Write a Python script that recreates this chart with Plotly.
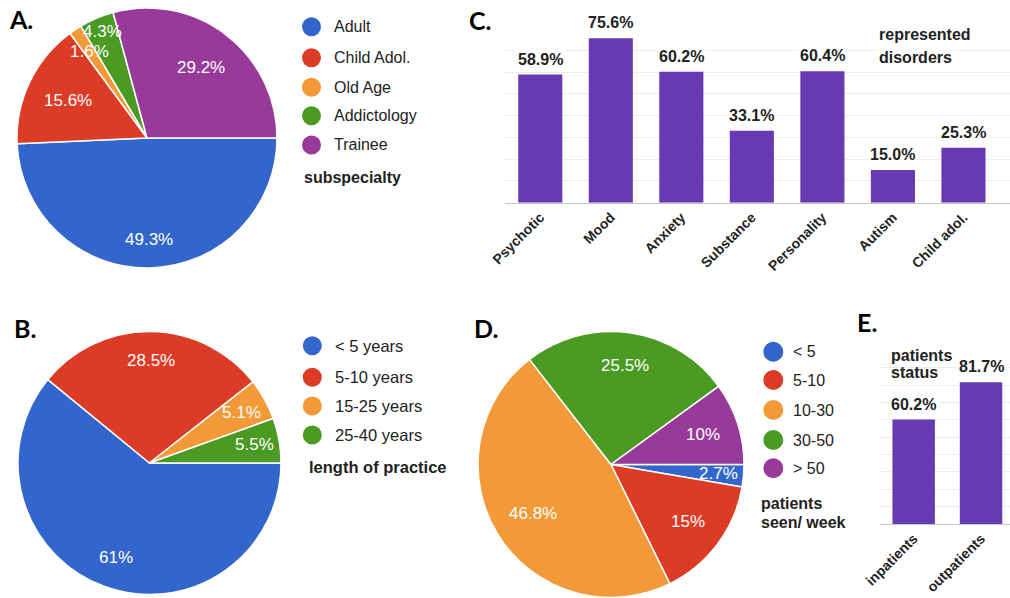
import math
import plotly.graph_objects as go

W, H = 1010, 598

# ---- data -------------------------------------------------------------
spec_labels = ["Adult", "Child Adol.", "Old Age", "Addictology", "Trainee"]
spec_values = [49.3, 15.6, 1.6, 4.3, 29.2]

practice_labels = ["< 5 years", "5-10 years", "15-25 years", "25-40 years"]
practice_values = [61, 28.5, 5.1, 5.5]

disorder_labels = ["Psychotic", "Mood", "Anxiety", "Substance",
                   "Personality", "Autism", "Child adol."]
disorder_values = [58.9, 75.6, 60.2, 33.1, 60.4, 15.0, 25.3]

weekly_labels = ["< 5", "5-10", "10-30", "30-50", "> 50"]
weekly_values = [2.7, 15, 46.8, 25.5, 10]

status_labels = ["inpatients", "outpatients"]
status_values = [60.2, 81.7]

# ---- styling ----------------------------------------------------------
BLUE, RED, ORANGE, GREEN, PURPLE = "#3366CC", "#DC3B26", "#F29A38", "#4A9A24", "#983A9A"
BAR = "#6739B3"
TXT = "#222222"
FONT = "Liberation Sans, Arial, sans-serif"
LETTER_FONT = "Lato, Liberation Sans, sans-serif"

spec_colors = [BLUE, RED, ORANGE, GREEN, PURPLE]
practice_colors = [BLUE, RED, ORANGE, GREEN]
weekly_colors = [BLUE, RED, ORANGE, GREEN, PURPLE]

# radial position (fraction of radius) of each slice's percentage label
spec_label_r = [0.78, 0.67, 0.80, 0.89, 0.68]
practice_label_r = [0.76, 0.78, 0.80, 0.81]
weekly_label_r = [0.81, 0.72, 0.69, 0.75, 0.73]


def px(x):
    return x / W


def py(y):
    return 1 - y / H


fig = go.Figure()
annotations = []
shapes = []


def add_pie(labels, values, colors, cx, cy, r, label_r):
    fig.add_trace(go.Pie(
        labels=labels, values=values, sort=False, direction="clockwise",
        rotation=90, marker=dict(colors=colors, line=dict(color="white", width=1.5)),
        textinfo="none", hoverinfo="label+value", showlegend=False,
        domain=dict(x=[px(cx - r), px(cx + r)], y=[py(cy + r), py(cy - r)]),
    ))
    total = sum(values)
    acc = 0.0
    for v, rf in zip(values, label_r):
        mid = (acc + v / 2) / total
        acc += v
        th = 2 * math.pi * mid
        lx = cx + rf * r * math.cos(th)
        ly = cy + rf * r * math.sin(th)
        annotations.append(dict(
            x=px(lx), y=py(ly), xref="paper", yref="paper", showarrow=False,
            text=f"{v:g}%", font=dict(family=FONT, size=17, color="white"),
            xanchor="center", yanchor="middle"))


def add_legend(labels, colors, cx, ys, tx, rad=9.5, size=16):
    for lab, col, y in zip(labels, colors, ys):
        shapes.append(dict(type="circle", xref="paper", yref="paper",
                           x0=px(cx - rad), x1=px(cx + rad),
                           y0=py(y + rad), y1=py(y - rad),
                           fillcolor=col, line=dict(width=0)))
        annotations.append(dict(x=px(tx), y=py(y), xref="paper", yref="paper",
                                showarrow=False, text=lab, xanchor="left",
                                yanchor="middle",
                                font=dict(family=FONT, size=size, color=TXT)))


def add_text(text, x, y, size=16, bold=True, anchor="left", family=FONT, bg=None):
    d = dict(x=px(x), y=py(y), xref="paper", yref="paper", showarrow=False,
             text=text, xanchor=anchor, yanchor="middle",
             font=dict(family=family, size=size, color=TXT if family == FONT else "black",
                       weight="bold" if bold else "normal"))
    if bg:
        d["bgcolor"] = bg
    annotations.append(d)


# ---- A: subspecialty pie ----------------------------------------------
add_pie(spec_labels, spec_values, spec_colors, 147, 138, 130, spec_label_r)
add_legend(spec_labels, spec_colors, 311.5, [26.7, 57.7, 87.3, 115.7, 145], 332)
add_text("subspecialty", 302, 177)

# ---- B: length of practice pie ----------------------------------------
add_pie(practice_labels, practice_values, practice_colors, 149.5, 463, 131.5, practice_label_r)
add_legend(practice_labels, practice_colors, 312.3, [345.7, 377.3, 406, 435], 333, size=16.5)
add_text("length of practice", 306.5, 466.7, size=16.5)

# ---- D: patients per week pie -----------------------------------------
add_pie(weekly_labels, weekly_values, weekly_colors, 611, 464.5, 133, weekly_label_r)
add_legend(weekly_labels, weekly_colors, 773.3, [351.7, 380, 410, 440, 468.3], 791, rad=10)
add_text("patients", 759, 503.3)
add_text("seen/ week", 759, 522)

# ---- C: represented disorders bars ------------------------------------
fig.add_trace(go.Bar(
    x=disorder_labels, y=disorder_values, marker=dict(color=BAR, line=dict(width=0)),
    width=0.625, xaxis="x", yaxis="y", showlegend=False,
))
for lab, v in zip(disorder_labels, disorder_values):
    annotations.append(dict(x=lab, y=v, xref="x", yref="y", showarrow=False,
                            text=f"{v:.1f}%", yanchor="bottom", yshift=5,
                            bgcolor="white", borderpad=1,
                            font=dict(family=FONT, size=16, color=TXT, weight="bold")))
add_text("represented", 877, 35, bg="white")
add_text("disorders", 877, 57, bg="white")

# ---- E: patient status bars -------------------------------------------
fig.add_trace(go.Bar(
    x=status_labels, y=status_values, marker=dict(color=BAR, line=dict(width=0)),
    width=0.63, xaxis="x2", yaxis="y2", showlegend=False,
))
for lab, v in zip(status_labels, status_values):
    annotations.append(dict(x=lab, y=v, xref="x2", yref="y2", showarrow=False,
                            text=f"{v:.1f}%", yanchor="bottom", yshift=5,
                            bgcolor="white", borderpad=1,
                            font=dict(family=FONT, size=16, color=TXT, weight="bold")))
add_text("patients", 889, 355)
add_text("status", 889, 372)

# ---- panel letters -----------------------------------------------------
for letter, x, y in [("A.", 20.5, 18.5), ("B.", 25, 328), ("C.", 480, 20),
                     ("D.", 485.5, 328), ("E.", 867, 321.5)]:
    add_text(letter, x, y, size=25, anchor="center", family=LETTER_FONT)

tick_font = dict(family=FONT, size=14, color=TXT, weight="bold")
axis_common = dict(showgrid=False, zeroline=False, ticks="", showline=True,
                   linecolor="#c8c8c8", linewidth=1, tickangle=-45,
                   tickfont=tick_font, fixedrange=True, automargin=False)
yaxis_common = dict(showgrid=True, gridcolor="#ececec", gridwidth=1, zeroline=False,
                    showticklabels=False, ticks="", showline=False, dtick=10,
                    fixedrange=True, automargin=False)

fig.update_layout(
    width=W, height=H,
    margin=dict(l=0, r=0, t=0, b=0, pad=0, autoexpand=False),
    paper_bgcolor="white", plot_bgcolor="white",
    xaxis=dict(domain=[px(505), 1.0], range=[-0.5, 6.66], type="category",
               anchor="y", **axis_common),
    yaxis=dict(domain=[py(202.7), py(28.3)], range=[0, 80.2], anchor="x", **yaxis_common),
    xaxis2=dict(domain=[px(880), 1.0], range=[-0.5, 1.43], type="category",
                anchor="y2", **axis_common),
    yaxis2=dict(domain=[py(524), py(362.7)], range=[0, 93], anchor="x2", **yaxis_common),
    annotations=annotations,
    shapes=shapes,
    bargap=0.3,
)

fig.write_html("out.html")
